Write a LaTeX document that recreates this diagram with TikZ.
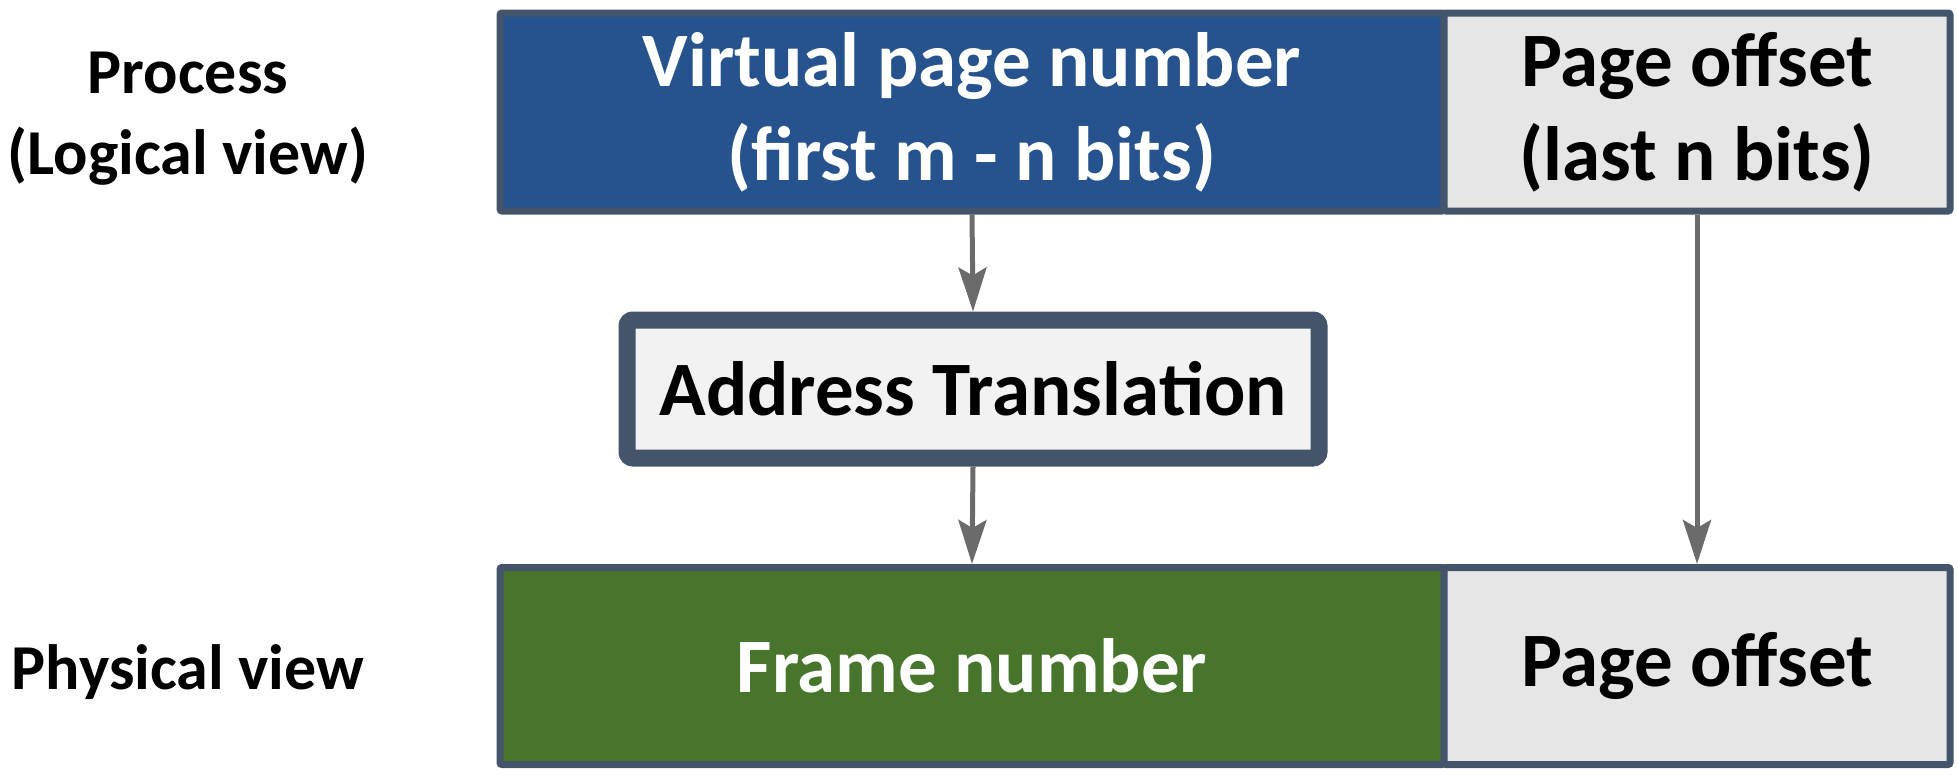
\documentclass[tikz,border=0pt]{standalone}
\usepackage{fontspec}
\setmainfont{Carlito}
\usetikzlibrary{arrows.meta}
\definecolor{bord}{HTML}{44546A}
\definecolor{vblue}{HTML}{26538E}
\definecolor{fgreen}{HTML}{48752C}
\definecolor{offgray}{HTML}{E6E6E6}
\definecolor{atgray}{HTML}{F2F2F2}
\definecolor{arr}{HTML}{6B6B6B}
\begin{document}
\begin{tikzpicture}[x=1pt,y=-1pt,
  cell/.style={draw=bord,line width=7pt,rounded corners=2pt,inner sep=0pt,
    font=\bfseries\fontsize{77}{94}\selectfont,align=center},
  lab/.style={inner sep=0pt,font=\bfseries\fontsize{64}{81}\selectfont,align=center},
  conn/.style={draw=arr,line width=5pt,-{Stealth[length=44pt,width=28pt,inset=8pt]}}]
\useasboundingbox (0,0) rectangle (1958,774);
\node[cell,fill=vblue,text=white,minimum width=944pt,minimum height=198pt] (vpn) at (972,112) {Virtual page number\\(first m - n bits)};
\node[cell,fill=offgray,minimum width=506pt,minimum height=198pt] (po1) at (1697,112) {Page offset\\(last n bits)};
\node[cell,fill=atgray,line width=17pt,rounded corners=6pt,minimum width=692pt,minimum height=138pt] (at) at (973,389) {Address Translation};
\node[cell,fill=fgreen,text=white,minimum width=944pt,minimum height=197pt] (fn) at (972,666) {Frame number};
\node[cell,fill=offgray,minimum width=506pt,minimum height=197pt] (po2) at (1697,666) {Page offset};
\node[lab] (proc) at (188,119) {Process\\(Logical view)};
\node[lab] (phys) at (188,672) {Physical view};
\draw[conn] (vpn.south) -- (at.north);
\draw[conn] (at.south) -- (fn.north);
\draw[conn] (po1.south) -- (po2.north);
\end{tikzpicture}
\end{document}
